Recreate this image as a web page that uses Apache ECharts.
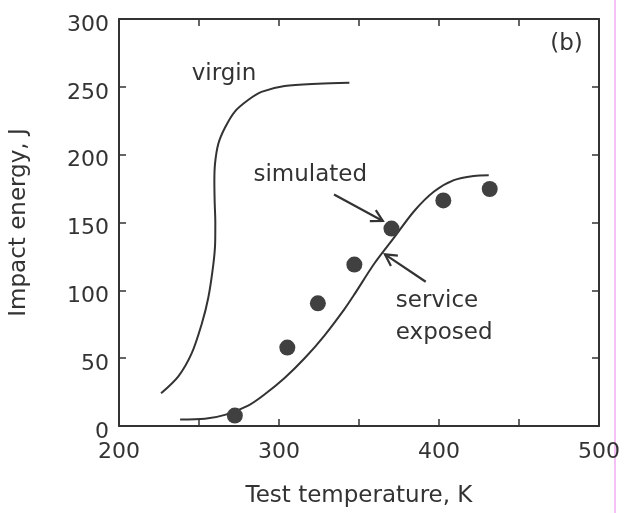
<!DOCTYPE html>
<html>
<head>
<meta charset="utf-8">
<script src="https://cdn.jsdelivr.net/npm/echarts@6/dist/echarts.min.js"></script>
<style>
  html, body { margin: 0; padding: 0; background: #fff; }
  #chart { width: 626px; height: 513px; }
</style>
</head>
<body>
<div id="chart"></div>
<script>
// Charpy impact energy vs. test temperature
const virginCurve = [
  [226.3, 24.1], [237.1, 36.6], [245.4, 53.5], [251.7, 75.2], [255.8, 94.5],
  [258.9, 118.6], [260.1, 135.0], [260.2, 150.0], [259.8, 165.0], [259.6, 180.0],
  [260.0, 193.2], [262.0, 207.7], [266.2, 219.8], [272.4, 231.8], [280.7, 240.3],
  [289.0, 246.3], [303.5, 250.6], [324.3, 252.3], [344.0, 253.0]
];
const serviceCurve = [
  [238.2, 4.8], [253.7, 5.3], [266.2, 8.2], [280.7, 15.0], [291.1, 23.4],
  [303.5, 35.4], [316.0, 49.9], [328.4, 66.7], [340.8, 86.0], [347.1, 97.0],
  [359.6, 119.8], [372.0, 139.0], [384.4, 158.3], [396.9, 172.8], [409.3, 181.2],
  [421.8, 184.3], [431.1, 184.8]
];
const simulatedPoints = [
  [272.4, 7.7], [305.2, 57.8], [324.3, 90.4], [347.1, 119.0],
  [370.3, 145.5], [402.7, 166.3], [431.7, 174.7]
];
// arrows: [fromT, fromE, toT, toE]
const arrows = [
  [334.4, 170.6, 364.9, 151.1],
  [391.7, 106.3, 366.2, 126.5]
];
// annotation text anchored at [T, E] (left edge, vertical middle)
const annotations = [
  { text: 'virgin', at: [245.4, 259.5] },
  { text: 'simulated', at: [284.0, 185.1] },
  { text: 'service', at: [373.0, 91.8] },
  { text: 'exposed', at: [373.0, 68.7] },
  { text: '(b)', at: [469.5, 281.9] }
];
const xTicks = [200, 300, 400, 500];
const yTicks = [0, 50, 100, 150, 200, 250, 300];

const INK = '#333333';
const FONT = 'DejaVu Sans';

const chart = echarts.init(document.getElementById('chart'), null, { renderer: 'canvas' });

const tickStyle = { inside: true, length: 7, lineStyle: { color: INK, width: 1.5 } };
const minorTickStyle = { show: true, splitNumber: 2, length: 7, lineStyle: { color: INK, width: 1.5 } };
const lineStyleAxis = { show: true, onZero: false, lineStyle: { color: INK, width: 2 } };

const option = {
  backgroundColor: '#ffffff',
  animation: false,
  grid: { left: 117, right: 27, top: 19, bottom: 79, containLabel: false },
  xAxis: [
    {
      type: 'value', min: xTicks[0], max: xTicks[xTicks.length - 1], interval: 100,
      position: 'bottom',
      name: 'Test temperature, K', nameLocation: 'middle', nameGap: 59,
      nameTextStyle: { color: INK, fontFamily: FONT, fontSize: 23 },
      axisLine: lineStyleAxis,
      axisTick: tickStyle,
      minorTick: minorTickStyle,
      axisLabel: { color: INK, fontFamily: FONT, fontSize: 22, margin: 15 },
      splitLine: { show: false }
    },
    {
      type: 'value', min: xTicks[0], max: xTicks[xTicks.length - 1], interval: 100,
      position: 'top',
      axisLine: lineStyleAxis,
      axisTick: tickStyle,
      minorTick: minorTickStyle,
      axisLabel: { show: false },
      splitLine: { show: false }
    }
  ],
  yAxis: [
    {
      type: 'value', min: yTicks[0], max: yTicks[yTicks.length - 1], interval: 50,
      position: 'left',
      name: 'Impact energy, J', nameLocation: 'middle', nameGap: 88, nameRotate: 90,
      nameTextStyle: { color: INK, fontFamily: FONT, fontSize: 23 },
      axisLine: lineStyleAxis,
      axisTick: tickStyle,
      axisLabel: {
        margin: 10,
        formatter: '{v|{value}}',
        rich: { v: { color: INK, fontFamily: FONT, fontSize: 22, padding: [12, 0, 0, 0] } }
      },
      splitLine: { show: false }
    },
    {
      type: 'value', min: yTicks[0], max: yTicks[yTicks.length - 1], interval: 50,
      position: 'right',
      axisLine: lineStyleAxis,
      axisTick: tickStyle,
      axisLabel: { show: false },
      splitLine: { show: false }
    }
  ],
  series: [
    {
      name: 'virgin', type: 'line', data: virginCurve, smooth: 0.3,
      showSymbol: false, lineStyle: { color: INK, width: 2 }, z: 3
    },
    {
      name: 'service exposed', type: 'line', data: serviceCurve, smooth: 0.3,
      showSymbol: false, lineStyle: { color: INK, width: 2 }, z: 3
    },
    {
      name: 'simulated', type: 'scatter', data: simulatedPoints,
      symbol: 'circle', symbolSize: 16,
      itemStyle: { color: '#404040', opacity: 1 }, z: 4
    },
    {
      name: 'arrows', type: 'custom', data: arrows,
      encode: { x: [0, 2], y: [1, 3] },
      renderItem: function (params, api) {
        const s = api.coord([api.value(0), api.value(1)]);
        const e = api.coord([api.value(2), api.value(3)]);
        const ang = Math.atan2(e[1] - s[1], e[0] - s[0]);
        const L = 13, spread = 0.5;
        const p1 = [e[0] - L * Math.cos(ang - spread), e[1] - L * Math.sin(ang - spread)];
        const p2 = [e[0] - L * Math.cos(ang + spread), e[1] - L * Math.sin(ang + spread)];
        const st = { stroke: INK, lineWidth: 2.2, fill: null };
        return {
          type: 'group',
          children: [
            { type: 'line', shape: { x1: s[0], y1: s[1], x2: e[0], y2: e[1] }, style: st },
            { type: 'polyline', shape: { points: [p1, e, p2] }, style: st }
          ]
        };
      },
      z: 5
    }
  ]
};

chart.setOption(option);

// place annotation text in data space
const graphics = annotations.map(function (a) {
  const p = chart.convertToPixel({ xAxisIndex: 0, yAxisIndex: 0 }, a.at);
  return {
    type: 'text', x: p[0], y: p[1], z: 10,
    style: {
      text: a.text, fill: INK, font: '23px "' + FONT + '"',
      textAlign: 'left', textVerticalAlign: 'middle'
    }
  };
});
// faint vertical scan streak on the right margin
graphics.push({
  type: 'rect', shape: { x: 614, y: 0, width: 2, height: 513 },
  style: { fill: 'rgba(236,140,236,0.55)' }, z: -1, silent: true
});
chart.setOption({ graphic: graphics });
</script>
</body>
</html>
